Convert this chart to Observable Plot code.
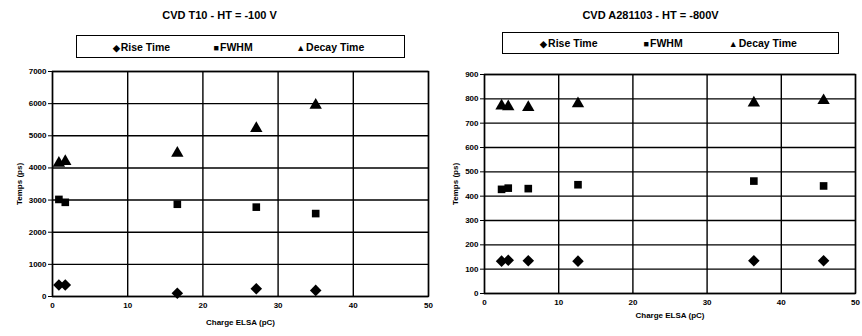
<!DOCTYPE html>
<html>
<head>
<meta charset="utf-8">
<script src="https://cdn.jsdelivr.net/npm/d3@7"></script>
<script src="https://cdn.jsdelivr.net/npm/@observablehq/plot@0.6"></script>
<style>
  html, body { margin: 0; padding: 0; background: #fff; }
  #root { position: relative; width: 862px; height: 336px; overflow: hidden; font-family: "Liberation Sans", Arial, sans-serif; font-weight: bold; color: #000; }
  .title { position: absolute; font-size: 11px; text-align: center; white-space: nowrap; }
  .legend { position: absolute; border: 1.5px solid #000; box-sizing: border-box; display: flex; align-items: center; justify-content: space-around; font-size: 10.5px; padding: 0 18px 0 14px; }
  .legend span.sym { font-size: 9px; margin-right: 1px; }
  .plot { position: absolute; }
</style>
</head>
<body>
<div id="root"></div>
<script>
// ----- data -----
const seriesNames = ["Rise Time", "FWHM", "Decay Time"];
const seriesSymbols = ["diamond2", "square", "triangle"];
const seriesGlyphs = ["\u25C6", "\u25A0", "\u25B2"];

const leftTitle = "CVD T10  -  HT = -100 V";
const leftCharge = [0.85, 1.7, 16.6, 27.1, 35.0];
const leftRise   = [360, 360, 100, 240, 190];
const leftFwhm   = [3020, 2930, 2870, 2780, 2580];
const leftDecay  = [4150, 4200, 4460, 5230, 5950];
const leftYTicks = [0, 1000, 2000, 3000, 4000, 5000, 6000, 7000];

const rightTitle = "CVD A281103  -  HT = -800V";
const rightCharge = [2.3, 3.2, 5.9, 12.6, 36.3, 45.7];
const rightRise   = [133, 137, 135, 133, 135, 135];
const rightFwhm   = [428, 433, 431, 447, 462, 442];
const rightDecay  = [771, 768, 765, 780, 783, 793];
const rightYTicks = [0, 100, 200, 300, 400, 500, 600, 700, 800, 900];

const xTicks = [0, 10, 20, 30, 40, 50];
const xLabel = "Charge ELSA (pC)";
const yLabel = "Temps (ps)";

// ----- helpers -----
const root = document.getElementById("root");

function rows(charge, rise, fwhm, decay) {
  const out = [];
  [rise, fwhm, decay].forEach((vals, s) => {
    vals.forEach((v, i) => out.push({x: charge[i], y: vals[i], s: seriesNames[s]}));
  });
  return out;
}

function addDiv(cls, left, top, w, h, html) {
  const d = document.createElement("div");
  d.className = cls;
  d.style.left = left + "px";
  d.style.top = top + "px";
  if (w != null) d.style.width = w + "px";
  if (h != null) d.style.height = h + "px";
  if (html != null) d.innerHTML = html;
  root.appendChild(d);
  return d;
}

function legendHtml() {
  return seriesNames.map((n, i) => `<div><span class="sym">${seriesGlyphs[i]}</span>${n}</div>`).join("");
}

const dotRadius = {"Rise Time": 5.2, "FWHM": 4.3, "Decay Time": 4.6};

function makePlot(opts) {
  const data = rows(opts.charge, opts.rise, opts.fwhm, opts.decay);
  const p = Plot.plot({
    width: opts.width,
    height: opts.height,
    marginTop: opts.mt,
    marginBottom: opts.mb,
    marginLeft: opts.ml,
    marginRight: opts.mr,
    style: {fontFamily: "'Liberation Sans', Arial, sans-serif", fontSize: "8px", fontWeight: "bold", color: "#000", overflow: "visible", background: "transparent"},
    x: {domain: [0, 50], ticks: xTicks, label: xLabel, labelAnchor: "center", labelArrow: "none", labelOffset: opts.xLabelOffset},
    y: {domain: opts.yDomain, ticks: opts.yTicks, label: yLabel, labelAnchor: "center", labelArrow: "none", labelOffset: opts.yLabelOffset},
    symbol: {domain: seriesNames, range: seriesSymbols},
    marks: [
      Plot.gridX(xTicks, {stroke: "#000", strokeOpacity: 1, strokeWidth: 1.4}),
      Plot.gridY(opts.yTicks, {stroke: "#000", strokeOpacity: 1, strokeWidth: 1.4}),
      Plot.frame({stroke: "#000", strokeWidth: 1.4}),
      Plot.axisX({ticks: xTicks, tickSize: 0, tickPadding: 6, tickFormat: d3.format("d"), label: xLabel, labelAnchor: "center", labelArrow: "none", labelOffset: opts.xLabelOffset}),
      Plot.axisY({ticks: opts.yTicks, tickSize: 4, tickPadding: 2, tickFormat: d3.format("d"), label: yLabel, labelAnchor: "center", labelArrow: "none", labelOffset: opts.yLabelOffset}),
      ...seriesNames.map(n => Plot.dot(data.filter(d => d.s === n), {x: "x", y: "y", symbol: "s", fill: "#000", stroke: "none", r: dotRadius[n]}))
    ]
  });
  const wrap = addDiv("plot", opts.left, opts.top, opts.width, opts.height);
  wrap.appendChild(p);
}

// ----- left chart -----
addDiv("title", 4, 9, 431, null, leftTitle);
addDiv("legend", 76, 35, 329, 23, legendHtml());
makePlot({
  left: 0, top: 60, width: 431, height: 276,
  mt: 11, mb: 40, ml: 52, mr: 3,
  yDomain: [0, 7000], yTicks: leftYTicks,
  xLabelOffset: 28, yLabelOffset: 36,
  charge: leftCharge, rise: leftRise, fwhm: leftFwhm, decay: leftDecay
});

// ----- right chart -----
addDiv("title", 435, 9, 431, null, rightTitle);
addDiv("legend", 502, 32, 337, 22, legendHtml());
makePlot({
  left: 431, top: 60, width: 431, height: 276,
  mt: 14, mb: 43, ml: 53, mr: 7,
  yDomain: [0, 900], yTicks: rightYTicks,
  xLabelOffset: 24, yLabelOffset: 32,
  charge: rightCharge, rise: rightRise, fwhm: rightFwhm, decay: rightDecay
});
</script>
</body>
</html>
